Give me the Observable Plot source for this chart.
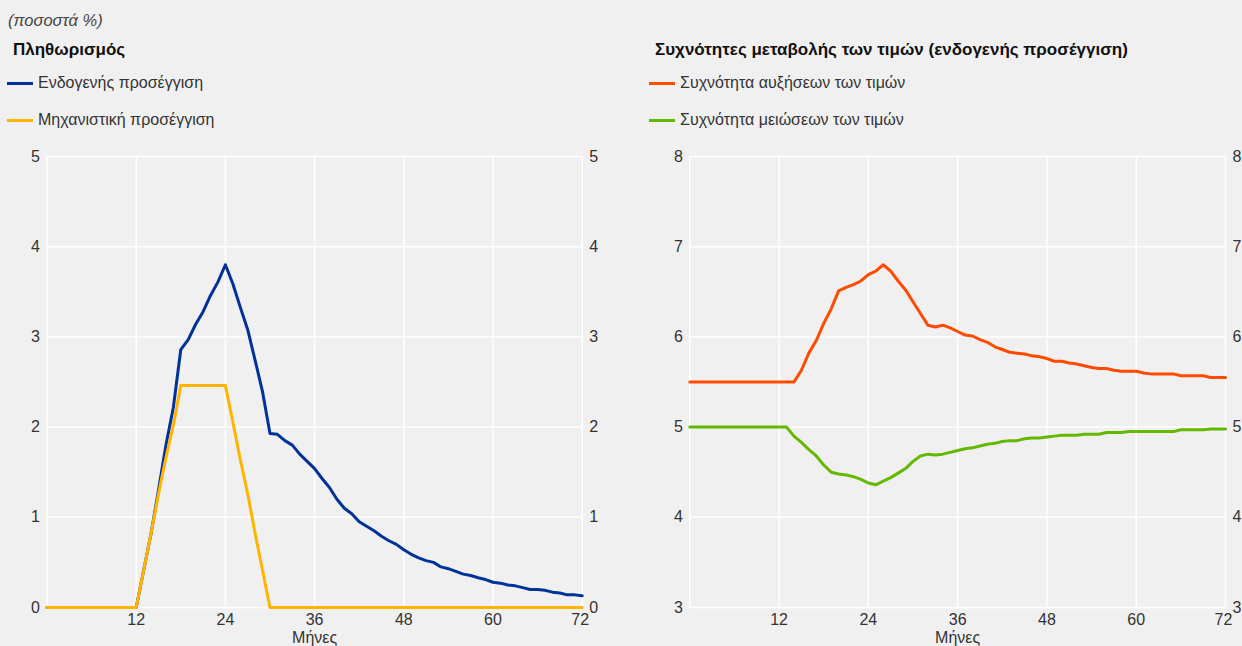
<!DOCTYPE html>
<html>
<head>
<meta charset="utf-8">
<script src="https://cdn.jsdelivr.net/npm/d3@7"></script>
<script src="https://cdn.jsdelivr.net/npm/@observablehq/plot@0.6"></script>
<style>
  html, body { margin: 0; padding: 0; background: #f0f0f0; }
  #page { position: relative; width: 1242px; height: 646px; background: #f0f0f0; overflow: hidden;
          font-family: "Liberation Sans", Arial, sans-serif; color: #333; }
  .abs { position: absolute; white-space: nowrap; }
  .unit { left: 8px; top: 11px; font-size: 16.5px; font-style: italic; color: #444; }
  .title { font-size: 17px; font-weight: bold; color: #111; }
  .leg { font-size: 16px; color: #333; display: flex; align-items: center; }
  .sw { display: inline-block; width: 26px; height: 3px; margin-right: 5px; }
  .chart { position: absolute; top: 140px; }
</style>
</head>
<body>
<div id="page">
  <div class="abs unit">(ποσοστά %)</div>
  <div class="abs title" id="t1" style="left:13px; top:40px;"></div>
  <div class="abs title" id="t2" style="left:655px; top:40px;"></div>
  <div id="leg1"></div>
  <div id="leg2"></div>
  <div class="chart" id="c1" style="left:0px;"></div>
  <div class="chart" id="c2" style="left:621px;"></div>
</div>
<script>
// ---- Data ----
const months = d3.range(0, 73); // 0..72 months
const xTicks = [12, 24, 36, 48, 60, 72];
const xLabel = "Μήνες";

const leftTitle = "Πληθωρισμός";
const leftNames = ["Ενδογενής προσέγγιση", "Μηχανιστική προσέγγιση"];
const leftColors = ["#003299", "#ffb400"];
const leftYTicks = [0, 1, 2, 3, 4, 5];

const endogenous = [
  0,0,0,0,0,0,0,0,0,0,0,0,0,
  0.41,0.82,1.30,1.80,2.22,2.86,2.97,3.14,3.28,3.46,3.61,3.80,
  3.59,3.33,3.08,2.74,2.39,1.93,1.92,1.85,1.80,1.70,1.62,1.54,
  1.43,1.33,1.20,1.10,1.04,0.95,0.90,0.85,0.79,0.74,0.70,0.64,
  0.59,0.55,0.52,0.50,0.45,0.43,0.40,0.37,0.355,0.33,0.31,0.28,
  0.27,0.25,0.24,0.22,0.20,0.20,0.19,0.17,0.16,0.14,0.14,0.13
];
const mechanistic = [
  0,0,0,0,0,0,0,0,0,0,0,0,0,
  0.41,0.82,1.26,1.66,2.02,2.46,2.46,2.46,2.46,2.46,2.46,2.46,
  2.06,1.64,1.26,0.82,0.41,0,0,0,0,0,0,0,
  0,0,0,0,0,0,0,0,0,0,0,0,
  0,0,0,0,0,0,0,0,0,0,0,0,
  0,0,0,0,0,0,0,0,0,0,0,0
];

const rightTitle = "Συχνότητες μεταβολής των τιμών (ενδογενής προσέγγιση)";
const rightNames = ["Συχνότητα αυξήσεων των τιμών", "Συχνότητα μειώσεων των τιμών"];
const rightColors = ["#ff4b00", "#65b800"];
const rightYTicks = [3, 4, 5, 6, 7, 8];

const increases = [
  5.5,5.5,5.5,5.5,5.5,5.5,5.5,5.5,5.5,5.5,5.5,5.5,5.5,5.5,5.5,
  5.63,5.82,5.96,6.15,6.31,6.51,6.55,6.58,6.62,6.69,6.73,6.80,
  6.73,6.62,6.52,6.39,6.26,6.13,6.11,6.13,6.10,6.06,6.02,6.01,
  5.97,5.94,5.89,5.86,5.83,5.82,5.81,5.79,5.78,5.76,5.73,5.73,
  5.71,5.70,5.68,5.66,5.65,5.65,5.63,5.62,5.62,5.62,5.60,5.59,
  5.59,5.59,5.59,5.57,5.57,5.57,5.57,5.55,5.55,5.55
];
const decreases = [
  5,5,5,5,5,5,5,5,5,5,5,5,5,5,
  4.90,4.83,4.75,4.68,4.58,4.50,4.48,4.47,4.45,4.42,4.38,4.36,
  4.40,4.44,4.49,4.54,4.62,4.68,4.70,4.69,4.70,4.72,4.74,4.76,
  4.77,4.79,4.81,4.82,4.84,4.85,4.85,4.87,4.88,4.88,4.89,4.90,
  4.91,4.91,4.91,4.92,4.92,4.92,4.94,4.94,4.94,4.95,4.95,4.95,
  4.95,4.95,4.95,4.95,4.97,4.97,4.97,4.97,4.98,4.98,4.98
];

// ---- Text & legends ----
document.getElementById("t1").textContent = leftTitle;
document.getElementById("t2").textContent = rightTitle;
function legend(id, names, colors, left, tops) {
  const el = document.getElementById(id);
  names.forEach((n, i) => {
    const d = document.createElement("div");
    d.className = "abs leg";
    d.style.left = left + "px";
    d.style.top = tops[i] + "px";
    const s = document.createElement("span");
    s.className = "sw"; s.style.background = colors[i];
    const t = document.createElement("span"); t.textContent = n;
    d.appendChild(s); d.appendChild(t);
    el.appendChild(d);
  });
}
legend("leg1", leftNames, leftColors, 7, [74, 111]);
legend("leg2", rightNames, rightColors, 649, [74, 111]);

// ---- Charts ----
function chart(series, names, colors, yDomain, yTicks, margins, rightPad) {
  const rows = [];
  series.forEach((vals, s) => vals.forEach((v, i) => rows.push({month: months[i], value: v, series: names[s]})));
  const inner = xTicks.slice(0, -1);
  const last = xTicks.slice(-1);
  return Plot.plot({
    width: 621, height: 506,
    marginLeft: margins[0], marginRight: margins[1], marginTop: 16, marginBottom: 39,
    style: {background: "transparent", fontFamily: "'Liberation Sans', Arial, sans-serif", fontSize: "16px", color: "#333"},
    x: {domain: [0, 72]},
    y: {domain: yDomain},
    color: {domain: names, range: colors},
    marks: [
      Plot.gridY(yTicks, {stroke: "white", strokeOpacity: 1, strokeWidth: 1.5}),
      Plot.gridX([0, ...xTicks], {stroke: "white", strokeOpacity: 1, strokeWidth: 1.5}),
      Plot.axisY(yTicks, {anchor: "left", tickSize: 0, tickPadding: 7, label: null, tickFormat: d => String(d)}),
      Plot.axisY(yTicks, {anchor: "right", tickSize: 0, tickPadding: rightPad, label: null, tickFormat: d => String(d)}),
      Plot.axisX(inner, {anchor: "bottom", tickSize: 0, tickPadding: 6, label: xLabel, labelAnchor: "center", labelArrow: "none", labelOffset: 35, tickFormat: d => String(d)}),
      Plot.axisX(last, {anchor: "bottom", tickSize: 0, tickPadding: 6, label: null, dx: -2, tickFormat: d => String(d)}),
      Plot.lineY(rows, {x: "month", y: "value", stroke: "series", strokeWidth: 3, strokeLinejoin: "round"})
    ]
  });
}
document.getElementById("c1").appendChild(
  chart([endogenous, mechanistic], leftNames, leftColors, [0, 5], leftYTicks, [46.5, 39.3], 7));
document.getElementById("c2").appendChild(
  chart([increases, decreases], rightNames, rightColors, [3, 8], rightYTicks, [68.3, 17], 7));
</script>
</body>
</html>
